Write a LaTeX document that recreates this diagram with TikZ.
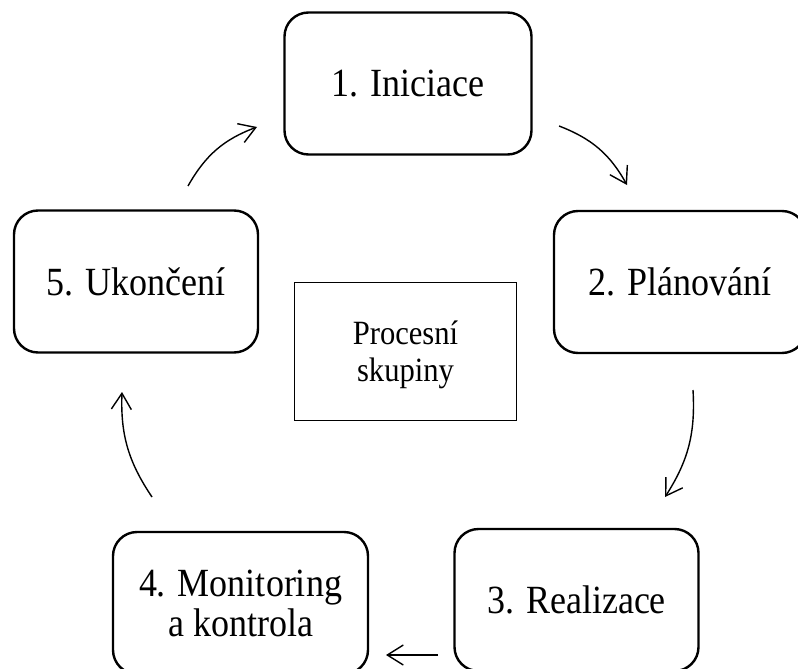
\documentclass[tikz,border=0pt]{standalone}
\usepackage{fontspec}
\setmainfont[FakeStretch=0.9]{Liberation Serif}
\usetikzlibrary{arrows.meta}
\begin{document}
\begin{tikzpicture}[x=1pt, y=-1pt,
		main/.style = {draw, rounded corners=24pt, line width=2.4pt, minimum width=244pt, minimum height=142pt, align=center, font=\fontsize{40}{40}\selectfont},
		group/.style = {draw, line width=1.2pt, minimum width=222pt, minimum height=138pt, align=center, text depth=0pt, font=\fontsize{34}{37}\selectfont},
		arr/.style = {-{Straight Barb[length=16pt, width=20pt]}, line width=1.4pt}]
			\useasboundingbox (0,0) rectangle (798,669);
			\clip (0,0) rectangle (798,669);
			\node[main, minimum width=247pt] (1) at (408,83.5) {1. Iniciace};
			\node[main, minimum width=252pt] (2) at (680,282) {2. Plánování};
			\node[main] (3) at (576.5,600) {3. Realizace};
			\node[main, minimum width=255pt, text depth=0pt] (4) at (240.5,603) {4. Monitoring\\a kontrola};
			\node[main] (5) at (136,281.5) {5. Ukončení};
			\node[group] (0) at (405.5,351.5) {Procesní\\skupiny};
			\coordinate (12a) at (559,126);
			\coordinate (12b) at (627,185);
			\coordinate (23a) at (693,390);
			\coordinate (23b) at (665,497);
			\coordinate (34a) at (438,655);
			\coordinate (34b) at (386,655);
			\coordinate (45a) at (152,497);
			\coordinate (45b) at (122,392);
			\coordinate (51a) at (188,186);
			\coordinate (51b) at (257,127);
			\draw[arr] (12a) to[bend left=20] (12b);
			\draw[arr] (23a) to[bend left=18] (23b);
			\draw[arr] (34a) -- (34b);
			\draw[arr] (45a) to[bend left=18] (45b);
			\draw[arr] (51a) to[bend left=20] (51b);
		\end{tikzpicture}
\end{document}
